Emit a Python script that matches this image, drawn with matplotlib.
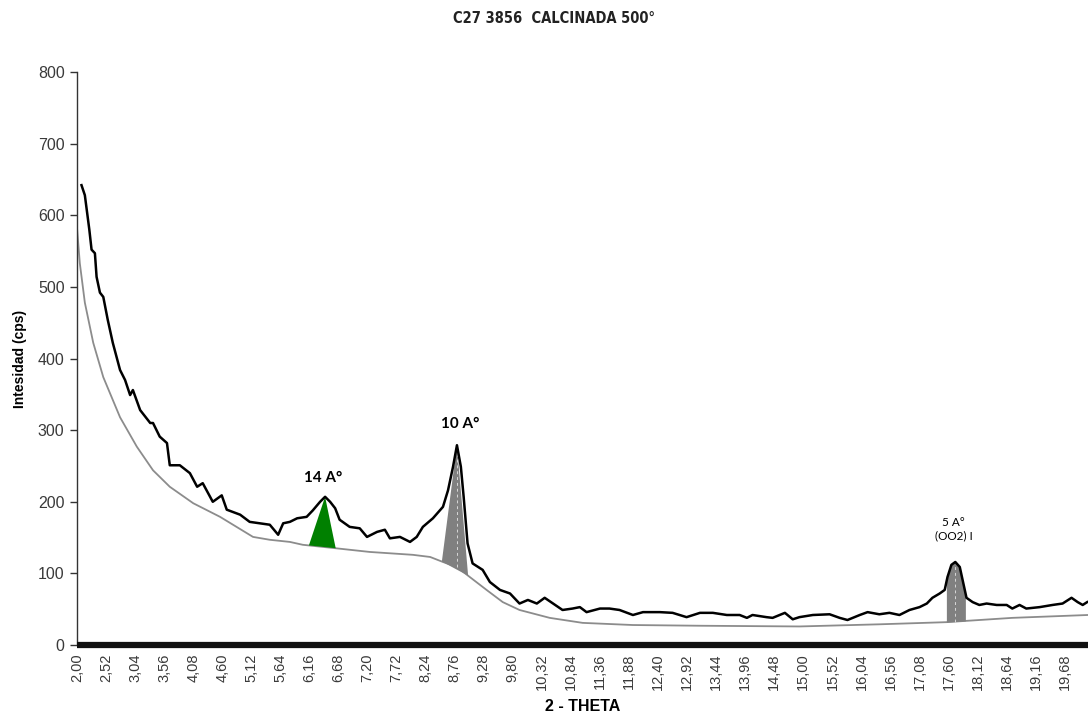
import numpy as np
import matplotlib
matplotlib.use('Agg')
import matplotlib.pyplot as plt

# measured scan (2-theta, cps)
theta = [2.08, 2.14, 2.22, 2.26, 2.32, 2.35, 2.41, 2.47, 2.55, 2.64,
         2.77, 2.86, 2.95, 3.00, 3.13, 3.31, 3.36, 3.48, 3.61, 3.66,
         3.84, 4.02, 4.15, 4.25, 4.43, 4.59, 4.68, 4.92, 5.09, 5.27,
         5.45, 5.60, 5.69, 5.81, 5.94, 6.11, 6.22, 6.35, 6.44, 6.53,
         6.62, 6.70, 6.88, 7.06, 7.19, 7.37, 7.51, 7.60, 7.78, 7.96,
         8.08, 8.19, 8.37, 8.55, 8.64, 8.73, 8.80, 8.87, 8.92, 8.99,
         9.08, 9.26, 9.39, 9.57, 9.75, 9.92, 10.07, 10.23, 10.37, 10.52,
         10.69, 10.87, 11.00, 11.12, 11.36, 11.53, 11.71, 11.95, 12.13, 12.43,
         12.66, 12.91, 13.15, 13.38, 13.63, 13.86, 13.99, 14.09, 14.34, 14.45,
         14.67, 14.81, 14.93, 15.17, 15.47, 15.65, 15.79, 16.01, 16.15, 16.36,
         16.54, 16.72, 16.90, 17.08, 17.21, 17.31, 17.44, 17.53, 17.58, 17.65,
         17.72, 17.80, 17.85, 17.92, 18.03, 18.15, 18.28, 18.46, 18.64, 18.74,
         18.87, 18.99, 19.23, 19.46, 19.64, 19.80, 19.91, 20.00, 20.08]
counts = [642, 628, 580, 552, 547, 514, 492, 486, 454, 422,
          384, 370, 349, 356, 328, 310, 310, 291, 282, 251,
          251, 240, 221, 226, 200, 209, 189, 182, 172, 170,
          168, 154, 170, 172, 177, 179, 188, 200, 207, 200,
          191, 175, 165, 163, 151, 158, 161, 149, 151, 144,
          151, 165, 177, 193, 216, 249, 279, 249, 207, 142,
          114, 105, 88, 77, 72, 58, 63, 58, 66, 58,
          49, 51, 53, 46, 51, 51, 49, 42, 46, 46,
          45, 39, 45, 45, 42, 42, 38, 42, 39, 38,
          45, 36, 39, 42, 43, 38, 35, 42, 46, 43,
          45, 42, 49, 53, 58, 66, 72, 77, 95, 112,
          116, 109, 91, 66, 60, 56, 58, 56, 56, 51,
          56, 51, 53, 56, 58, 66, 60, 56, 60]

# background curve
bg_theta = [2.00, 2.05, 2.14, 2.29, 2.47, 2.77, 3.07, 3.36, 3.66, 4.08,
            4.56, 5.15, 5.45, 5.81, 6.04, 6.65, 7.24, 8.01, 8.32, 8.55,
            8.80, 9.03, 9.33, 9.62, 9.92, 10.46, 11.05, 11.95, 13.15, 14.93,
            16.36, 17.56, 18.74, 20.09]
bg_counts = [582, 533, 478, 422, 374, 318, 277, 244, 221, 198,
             179, 151, 147, 144, 140, 135, 130, 126, 123, 116,
             109, 95, 77, 60, 49, 38, 31, 28, 27, 26,
             29, 32, 38, 42]

# identified reflections
peak_labels = ['14 A°', '10 A°', '5 A°\n(OO2) I']
peak_left = [6.15, 8.53, 17.56]
peak_top = [6.44, 8.80, 17.72]
peak_right = [6.63, 9.00, 17.90]
peak_height = [207, 279, 116]
peak_colors = ['#008000', '#808080', '#808080']

x_tick_labels = ['2,00', '2,52', '3,04', '3,56', '4,08', '4,60', '5,12', '5,64',
                 '6,16', '6,68', '7,20', '7,72', '8,24', '8,76', '9,28', '9,80',
                 '10,32', '10,84', '11,36', '11,88', '12,40', '12,92', '13,44',
                 '13,96', '14,48', '15,00', '15,52', '16,04', '16,56', '17,08',
                 '17,60', '18,12', '18,64', '19,16', '19,68']
y_ticks = [0, 100, 200, 300, 400, 500, 600, 700, 800]

plt.rcParams['font.family'] = ['Liberation Sans', 'DejaVu Sans']

fig = plt.figure(figsize=(10.91, 7.24), dpi=100)
ax = fig.add_axes([0.0706, 0.109, 0.9264, 0.7916])

ax.plot(bg_theta, bg_counts, color='#8c8c8c', lw=1.3, zorder=2)

# peak areas
for i in range(len(peak_labels)):
    bl = np.interp(peak_left[i], bg_theta, bg_counts)
    br = np.interp(peak_right[i], bg_theta, bg_counts)
    if i < 2:
        xs = [peak_left[i], peak_top[i], peak_right[i]]
        ys = [bl, peak_height[i], br]
        ax.fill(xs, ys, color=peak_colors[i], lw=0, zorder=3)
    else:
        xs = np.linspace(peak_left[i], peak_right[i], 30)
        top = np.interp(xs, theta, counts)
        base = np.interp(xs, bg_theta, bg_counts)
        ax.fill_between(xs, base, top, color=peak_colors[i], lw=0, zorder=3)
    if i > 0:
        bc = np.interp(peak_top[i], bg_theta, bg_counts)
        ax.plot([peak_top[i], peak_top[i]], [bc, peak_height[i] * 0.95],
                color='#d8d8d8', lw=0.7, ls=(0, (3, 3)), zorder=4)

ax.plot(theta, counts, color='black', lw=1.8, zorder=5)

ax.text(6.40, 233, peak_labels[0], family='Lato', weight='bold', fontsize=11,
        ha='center', va='center')
ax.text(8.85, 309, peak_labels[1], family='Lato', weight='bold', fontsize=11,
        ha='center', va='center')
ax.text(17.69, 162, peak_labels[2], family='Lato', fontsize=8.5,
        ha='center', va='center', linespacing=1.3)

ax.set_xlim(2.0, 20.09)
ax.set_ylim(0, 800)

x_ticks = [2.0 + 0.52 * k for k in range(len(x_tick_labels))]
ax.set_xticks(x_ticks)
ax.set_xticklabels(x_tick_labels, rotation=90, fontsize=10.5, color='#3a3a3a')
ax.set_yticks(y_ticks)
ax.set_yticklabels([str(v) for v in y_ticks], fontsize=11.5, color='#3a3a3a')
ax.tick_params(axis='x', length=0, pad=6)
ax.tick_params(axis='y', length=5, width=1, color='#333333', pad=4)

for s in ['top', 'right']:
    ax.spines[s].set_visible(False)
ax.spines['left'].set_color('#333333')
ax.spines['left'].set_linewidth(1)
ax.spines['bottom'].set_color('#111111')
ax.spines['bottom'].set_linewidth(4.5)
ax.spines['bottom'].set_capstyle('butt')

ax.set_ylabel('Intesidad (cps)', fontsize=10, weight='bold', labelpad=8)
ax.set_xlabel('2 - THETA', fontsize=11.5, weight='bold', labelpad=6)

fig.text(0.508, 0.975, 'C27 3856  CALCINADA 500°', ha='center', va='center',
         fontsize=10.5, weight='bold', family=['Liberation Sans Narrow', 'DejaVu Sans'],
         stretch='condensed', color='#222222')

fig.savefig('out.png', dpi=100)
plt.close(fig)
